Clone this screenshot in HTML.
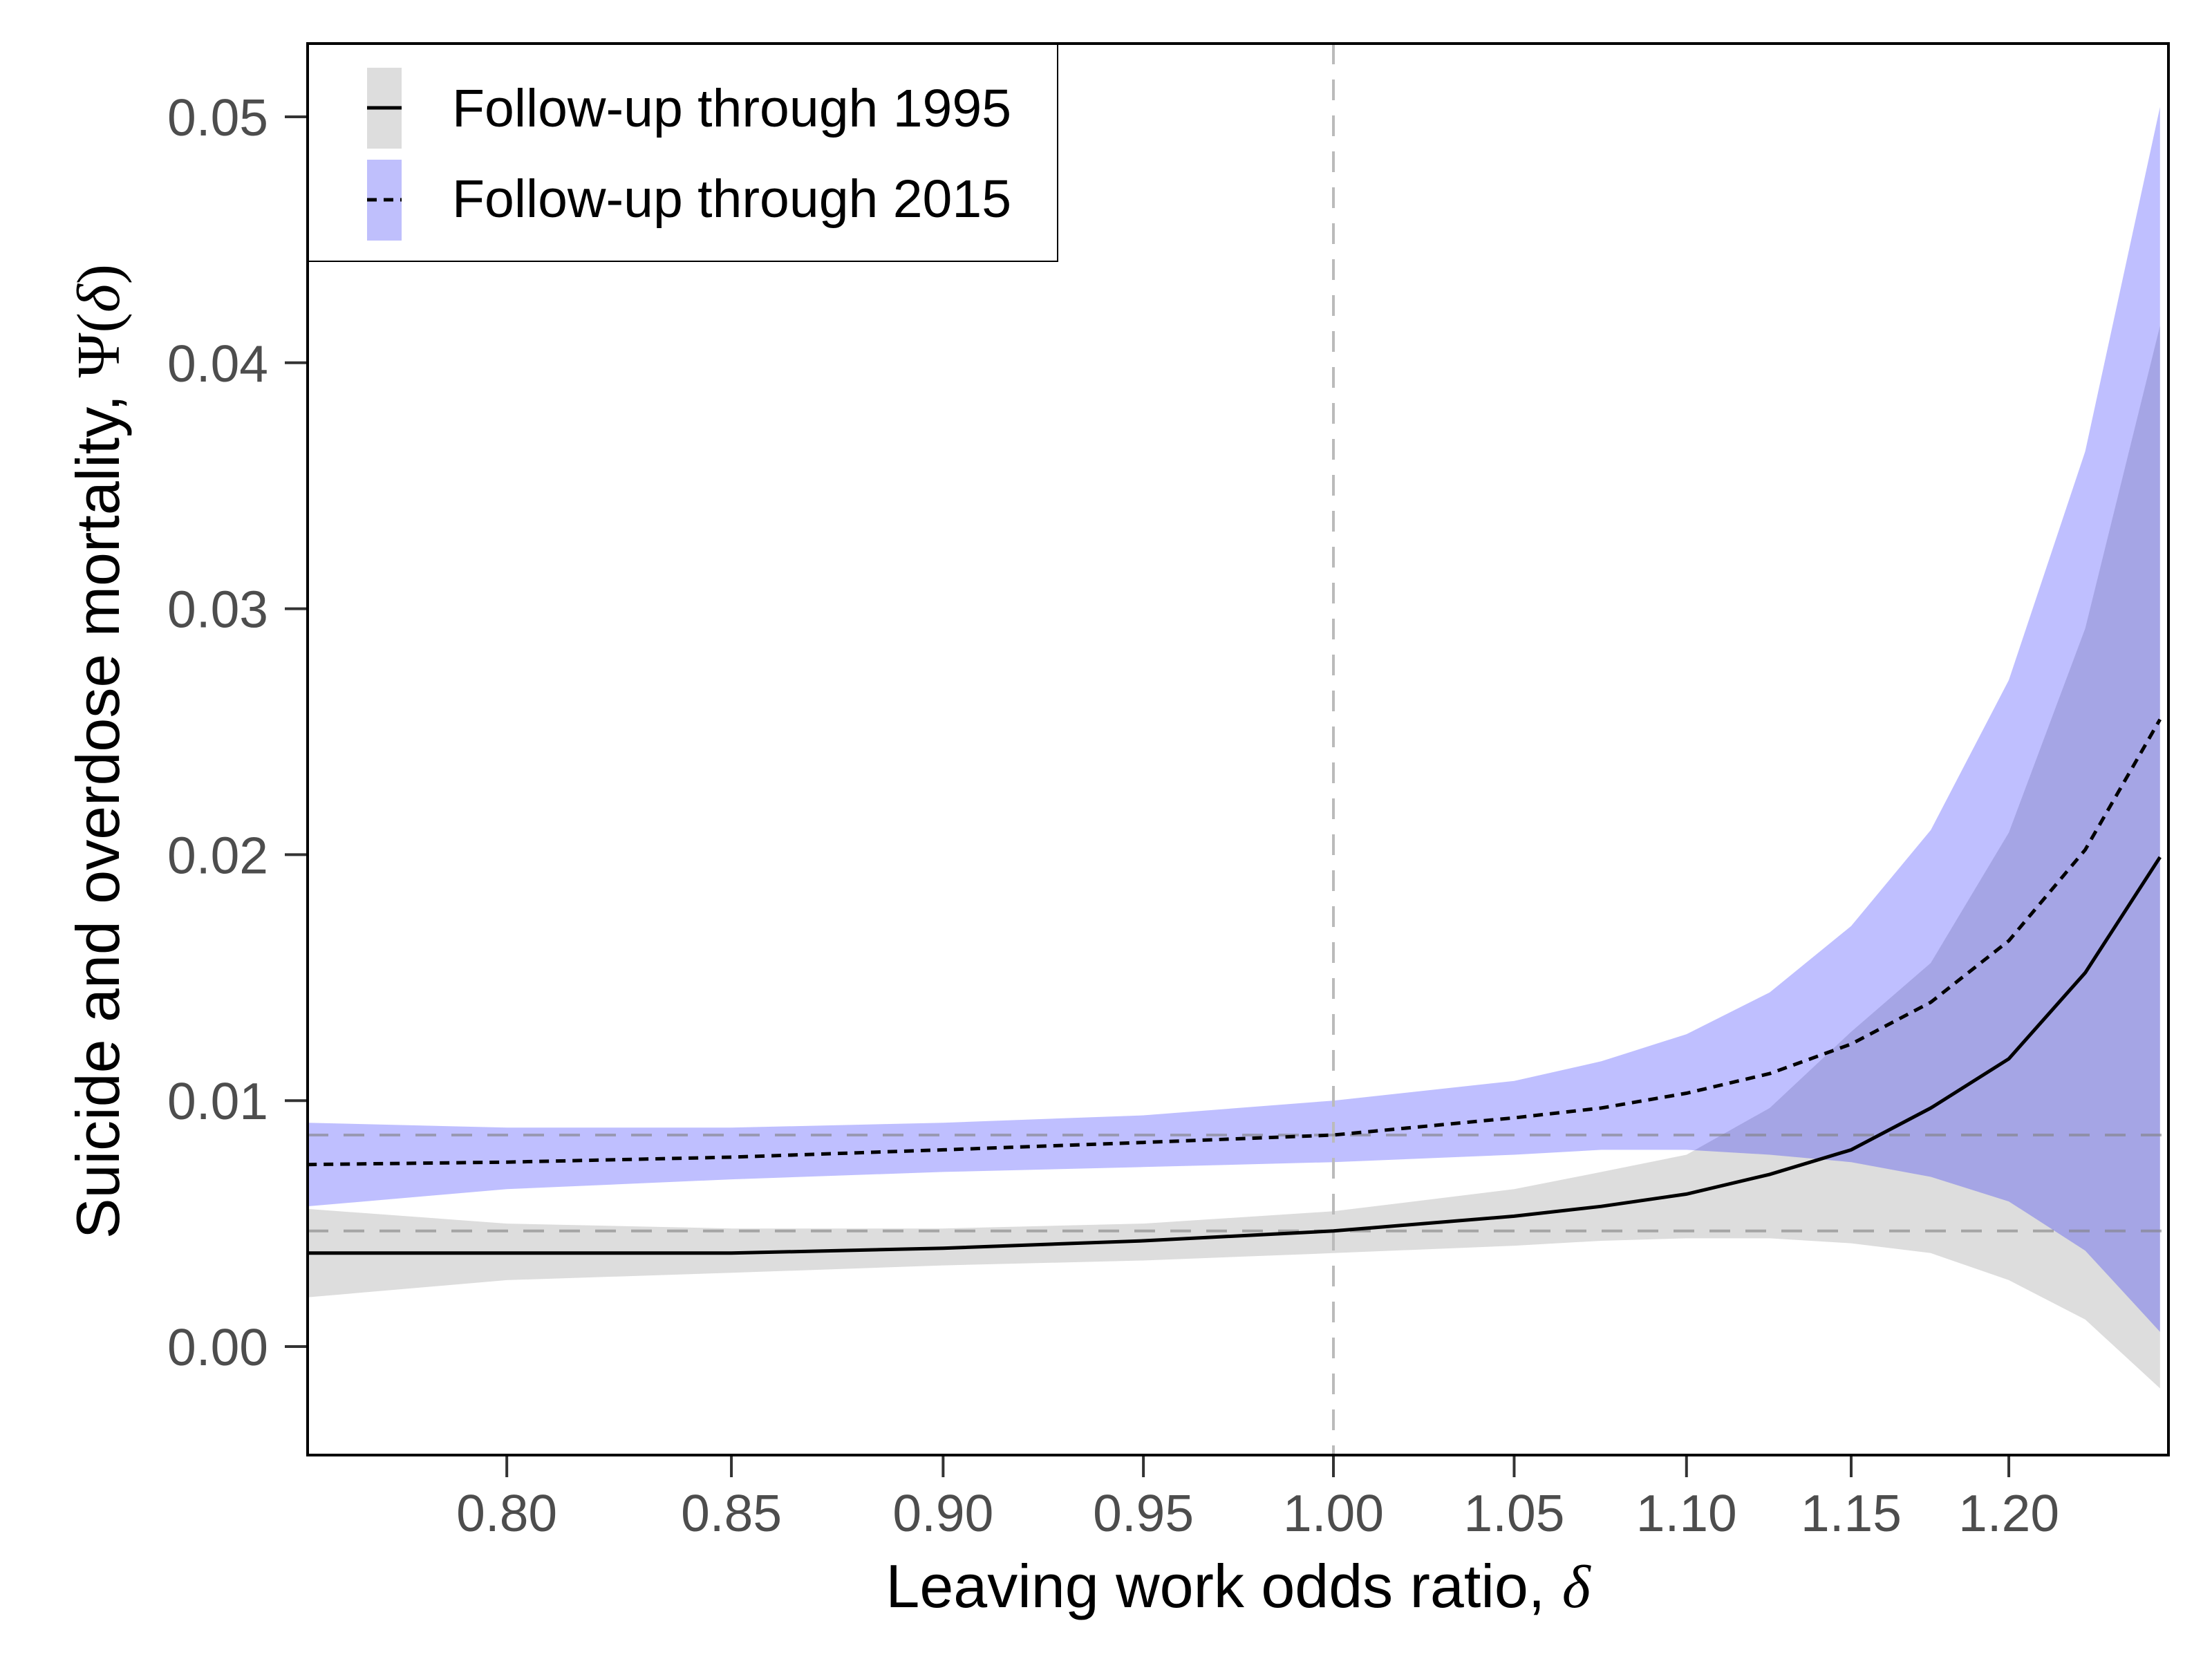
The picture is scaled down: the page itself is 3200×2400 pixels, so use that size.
<!DOCTYPE html>
<html><head><meta charset="utf-8"><style>
html,body{margin:0;padding:0;background:#fff;}
svg{display:block;font-family:"Liberation Sans",sans-serif;}
</style></head><body>
<svg id="chart" width="3200" height="2400" viewBox="0 0 3200 2400" xmlns="http://www.w3.org/2000/svg">
<defs><clipPath id="plotclip"><rect x="445" y="63" width="2692" height="2042"/></clipPath></defs>
<rect width="3200" height="2400" fill="#fff"/>
<g id="bands" clip-path="url(#plotclip)"></g>
<g id="reflines" clip-path="url(#plotclip)"></g>
<g id="lines" clip-path="url(#plotclip)"></g>
<g id="axes"></g>
<rect x="445" y="63" width="2692" height="2042" fill="none" stroke="#000" stroke-width="4"/>
<text x="1791" y="2325" font-size="88" text-anchor="middle" fill="#000">Leaving work odds ratio, <tspan font-family="Liberation Serif,serif" font-style="italic">δ</tspan></text>
<text transform="translate(172,1087) rotate(-90)" font-size="88" text-anchor="middle" fill="#000">Suicide and overdose mortality, <tspan font-family="Liberation Serif,serif">Ψ(</tspan><tspan font-family="Liberation Serif,serif" font-style="italic">δ</tspan><tspan font-family="Liberation Serif,serif">)</tspan></text>
<g>
<rect x="446" y="64" width="1084" height="314" fill="#fff" stroke="#000" stroke-width="2"/>
<rect x="531" y="98" width="50" height="117" fill="#dddddd"/>
<line x1="531" y1="156" x2="581" y2="156" stroke="#000" stroke-width="5"/>
<text x="654" y="183" font-size="77" fill="#000">Follow-up through 1995</text>
<rect x="531" y="231" width="50" height="117" fill="#bfbffc"/>
<line x1="531" y1="289" x2="581" y2="289" stroke="#000" stroke-width="5" stroke-dasharray="14,10"/>
<text x="654" y="314" font-size="77" fill="#000">Follow-up through 2015</text>
</g>
</svg>
<script>
const deltas = [0.758,0.80,0.85,0.90,0.95,1.00,1.05,1.075,1.10,1.125,1.15,1.175,1.20,1.225,1.25];
const est1995 = [0.0038,0.0038,0.0038,0.0040,0.0043,0.0047,0.0053,0.0057,0.0062,0.0070,0.0080,0.0097,0.0117,0.0152,0.0199];
const lo1995 = [0.0020,0.0027,0.0030,0.0033,0.0035,0.0038,0.0041,0.0043,0.0044,0.0044,0.0042,0.0038,0.0027,0.0011,-0.0017];
const hi1995 = [0.0056,0.0050,0.0048,0.0048,0.0050,0.0055,0.0064,0.0071,0.0078,0.0097,0.0128,0.0156,0.0209,0.0292,0.0415];
const est2015 = [0.0074,0.0075,0.0077,0.0080,0.0083,0.0086,0.0093,0.0097,0.0103,0.0111,0.0123,0.0140,0.0165,0.0202,0.0255];
const lo2015 = [0.0057,0.0064,0.0068,0.0071,0.0073,0.0075,0.0078,0.0080,0.0080,0.0078,0.0075,0.0069,0.0059,0.0039,0.0006];
const hi2015 = [0.0091,0.0089,0.0089,0.0091,0.0094,0.0100,0.0108,0.0116,0.0127,0.0144,0.0171,0.0210,0.0271,0.0364,0.0504];
const ref1995 = 0.0047, ref2015 = 0.0086;
const xTicks = [0.80,0.85,0.90,0.95,1.00,1.05,1.10,1.15,1.20];
const yTicks = [0.00,0.01,0.02,0.03,0.04,0.05];

const NS="http://www.w3.org/2000/svg";
const X = d => 1929 + Math.log(d)*5359;
const Y = v => 1948 - v*35580;
function mk(tag, attrs, parent){const e=document.createElementNS(NS,tag);for(const k in attrs)e.setAttribute(k,attrs[k]);parent.appendChild(e);return e;}
const bands=document.getElementById('bands'), lines=document.getElementById('lines'), refl=document.getElementById('reflines'), axes=document.getElementById('axes');
function bandPath(lo,hi){let p=deltas.map((d,i)=>(i?'L':'M')+X(d).toFixed(1)+','+Y(hi[i]).toFixed(1)).join('');
 for(let i=deltas.length-1;i>=0;i--)p+='L'+X(deltas[i]).toFixed(1)+','+Y(lo[i]).toFixed(1);return p+'Z';}
function linePath(v){return deltas.map((d,i)=>(i?'L':'M')+X(d).toFixed(1)+','+Y(v[i]).toFixed(1)).join('');}
let e;
e=mk('path',{d:bandPath(lo1995,hi1995),fill:'#dddddd'},bands);


e=mk('path',{d:bandPath(lo2015,hi2015),fill:'#0000ff','fill-opacity':0.25},bands);


e=mk('line',{x1:X(1),x2:X(1),y1:63,y2:2105,stroke:'#bbbbbb','stroke-width':4,'stroke-dasharray':'30,22'},refl);


[ref1995,ref2015].forEach((r,i)=>{
 const l=mk('line',{x1:445,x2:3137,y1:Y(r),y2:Y(r),stroke:'#808080','stroke-opacity':0.6,'stroke-width':4,'stroke-dasharray':'30,22'},refl);
 
 
});
e=mk('path',{d:linePath(est1995),fill:'none',stroke:'#000','stroke-width':5},lines);


e=mk('path',{d:linePath(est2015),fill:'none',stroke:'#000','stroke-width':5,'stroke-dasharray':'14,10'},lines);


xTicks.forEach(t=>{
 const x=X(t);
 const tk=mk('line',{x1:x,x2:x,y1:2105,y2:2137,stroke:'#333','stroke-width':4},axes);
 
 
 const lb=mk('text',{x:x,y:2215,'font-size':75,'text-anchor':'middle',fill:'#4d4d4d'},axes);
 lb.textContent=t.toFixed(2);
 
 
});
yTicks.forEach(t=>{
 const y=Y(t);
 const tk=mk('line',{x1:412,x2:445,y1:y,y2:y,stroke:'#333','stroke-width':4},axes);
 
 
 const lb=mk('text',{x:388,y:y+27,'font-size':75,'text-anchor':'end',fill:'#4d4d4d'},axes);
 lb.textContent=t.toFixed(2);
 
 
});
</script>
</body></html>
